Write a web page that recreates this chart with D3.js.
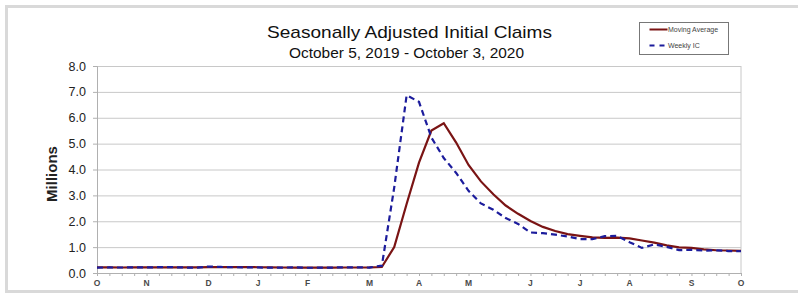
<!DOCTYPE html>
<html>
<head>
<meta charset="utf-8">
<script src="https://cdn.jsdelivr.net/npm/d3@7"></script>
<style>
  html, body { margin: 0; padding: 0; background: #fff; }
  svg { display: block; font-family: "Liberation Sans", Arial, sans-serif; }
</style>
</head>
<body>
<div id="chart"></div>
<script>
// week index 0 = Oct 5, 2019 ... 52 = Oct 3, 2020 (millions)
const weeklyIC = [
  0.210, 0.214, 0.212, 0.218, 0.215, 0.225, 0.227, 0.213, 0.203, 0.252,
  0.234, 0.222, 0.220, 0.214, 0.204, 0.211, 0.216, 0.202, 0.205, 0.211,
  0.219, 0.216, 0.211, 0.282, 3.307, 6.867, 6.615, 5.237, 4.442, 3.867,
  3.176, 2.687, 2.446, 2.123, 1.897, 1.566, 1.540, 1.482, 1.413, 1.310,
  1.307, 1.422, 1.435, 1.191, 0.971, 1.104, 1.011, 0.884, 0.893, 0.866,
  0.873, 0.849, 0.840
];
const movingAvg = [
  0.215, 0.214, 0.213, 0.214, 0.215, 0.217, 0.221, 0.220, 0.217, 0.224,
  0.226, 0.228, 0.232, 0.223, 0.215, 0.212, 0.211, 0.208, 0.209, 0.209,
  0.212, 0.213, 0.214, 0.232, 1.004, 2.667, 4.268, 5.507, 5.790, 5.040,
  4.176, 3.540, 3.044, 2.608, 2.288, 2.008, 1.782, 1.621, 1.500, 1.436,
  1.378, 1.358, 1.369, 1.339, 1.255, 1.175, 1.069, 0.991, 0.973, 0.914,
  0.879, 0.870, 0.858
];
// month labels at the first week of each month
const monthWeeks = [0, 4, 9, 13, 17, 22, 26, 30, 35, 39, 43, 48, 52];
const monthLabels = ["O", "N", "D", "J", "F", "M", "A", "M", "J", "J", "A", "S", "O"];
const yTicks = [0, 1, 2, 3, 4, 5, 6, 7, 8];

const W = 798, H = 294;
const margin = {top: 66, right: 57, bottom: 21, left: 97};
const iw = W - margin.left - margin.right;
const ih = H - margin.top - margin.bottom;

const svg = d3.select("#chart").append("svg")
  .attr("width", W).attr("height", H);

// outer frame
svg.append("rect")
  .attr("x", 6.5).attr("y", 6.5)
  .attr("width", 800).attr("height", 285)
  .attr("fill", "none").attr("stroke", "#d9d9d9").attr("stroke-width", 3);

const x = d3.scaleLinear().domain([0, weeklyIC.length - 1]).range([0, iw]);
const y = d3.scaleLinear().domain([0, 8]).range([ih, 0]);

const g = svg.append("g").attr("transform", `translate(${margin.left},${margin.top})`);

// horizontal grid
g.append("g")
  .call(d3.axisLeft(y).tickValues(yTicks).tickSize(-iw).tickFormat(""))
  .call(s => s.select(".domain").remove())
  .selectAll("line").attr("stroke", "#c8c8c8");

// right border
g.append("line")
  .attr("x1", iw).attr("x2", iw).attr("y1", 0).attr("y2", ih)
  .attr("stroke", "#c8c8c8");

// y axis
const yAxis = g.append("g")
  .call(d3.axisLeft(y).tickValues(yTicks).tickSize(4).tickPadding(7).tickFormat(d3.format(".1f")));
yAxis.select(".domain").attr("stroke", "#b0b0b0");
yAxis.selectAll("line").attr("stroke", "#b0b0b0");
yAxis.selectAll("text").attr("font-size", 12.5).attr("fill", "#222")
  .attr("font-family", "Liberation Sans, Arial, sans-serif");

// x axis: weekly ticks
const xAxis = g.append("g").attr("transform", `translate(0,${ih})`)
  .call(d3.axisBottom(x).tickValues(d3.range(0, weeklyIC.length)).tickSize(3).tickFormat(""));
xAxis.select(".domain").attr("stroke", "#b0b0b0");
xAxis.selectAll("line").attr("stroke", "#b0b0b0");

g.append("g").selectAll("text")
  .data(monthWeeks)
  .join("text")
  .attr("x", d => x(d))
  .attr("y", ih + 13)
  .attr("text-anchor", "middle")
  .attr("font-size", 8.5)
  .attr("font-weight", "bold")
  .attr("fill", "#4a4a4a")
  .text((d, i) => monthLabels[i]);

// Millions label
svg.append("text")
  .attr("transform", "translate(57,174) rotate(-90)")
  .attr("text-anchor", "middle")
  .attr("font-size", 15)
  .attr("font-weight", "bold")
  .attr("fill", "#222")
  .text("Millions");

// titles
svg.append("text")
  .attr("x", 267).attr("y", 38)
  .attr("font-size", 17)
  .attr("textLength", 285)
  .attr("lengthAdjust", "spacingAndGlyphs")
  .attr("fill", "#111")
  .text("Seasonally Adjusted Initial Claims");
svg.append("text")
  .attr("x", 289).attr("y", 58)
  .attr("font-size", 14)
  .attr("textLength", 235)
  .attr("lengthAdjust", "spacingAndGlyphs")
  .attr("fill", "#111")
  .text("October 5, 2019 - October 3, 2020");

const line = d3.line().x((d, i) => x(i)).y(d => y(d));

g.append("path")
  .datum(movingAvg)
  .attr("d", line)
  .attr("fill", "none")
  .attr("stroke", "#7a1414")
  .attr("stroke-width", 2.2);

g.append("path")
  .datum(weeklyIC)
  .attr("d", line)
  .attr("fill", "none")
  .attr("stroke", "#1c1c9c")
  .attr("stroke-width", 2.2)
  .attr("stroke-dasharray", "6,4");

// legend
const lg = svg.append("g").attr("transform", "translate(639.5,22.5)");
lg.append("rect")
  .attr("width", 89).attr("height", 32)
  .attr("fill", "#fff").attr("stroke", "#777").attr("stroke-width", 1);
const legendItems = [
  {label: "Moving Average", color: "#7a1414", dash: null},
  {label: "Weekly IC", color: "#1c1c9c", dash: "5,5"}
];
legendItems.forEach((d, i) => {
  const yy = 7 + i * 16;
  lg.append("line")
    .attr("x1", 10).attr("x2", 28).attr("y1", yy).attr("y2", yy)
    .attr("stroke", d.color).attr("stroke-width", 2)
    .attr("stroke-dasharray", d.dash);
  lg.append("text")
    .attr("x", 28.5).attr("y", yy + 2.5)
    .attr("font-size", 7)
    .attr("fill", "#444")
    .text(d.label);
});
</script>
</body>
</html>
